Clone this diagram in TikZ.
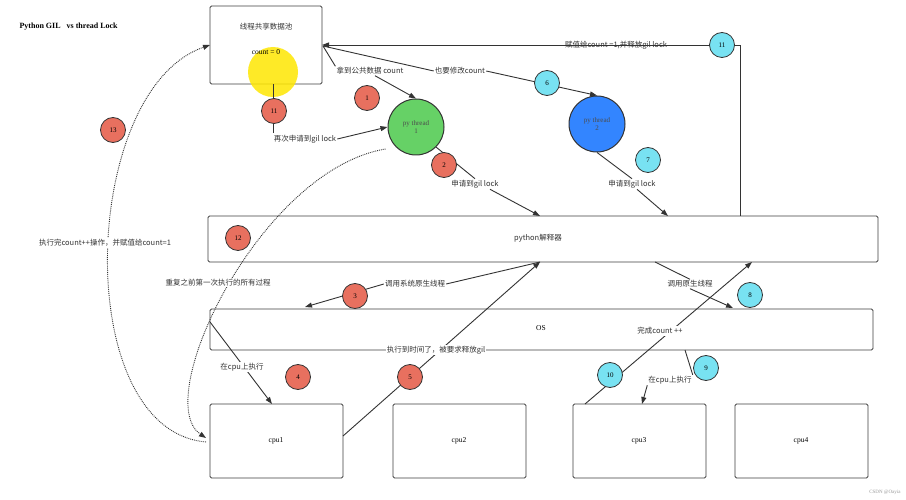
\documentclass[tikz,border=0pt]{standalone}
\usepackage{fontspec}
\setmainfont{Liberation Serif}
\newfontfamily\cjk{Noto Sans CJK SC}
\usetikzlibrary{arrows.meta}
\definecolor{bred}{HTML}{E8705F}
\definecolor{bcyan}{HTML}{78E2F2}
\begin{document}
\begin{tikzpicture}[x=1pt,y=-1pt,
  box/.style={draw=black!75,line width=0.9pt,rounded corners=1.5pt},
  red/.style={circle,draw=black!80,line width=0.8pt,fill=bred,minimum size=25pt,inner sep=0pt,font=\fontsize{7}{8}\selectfont},
  cyan/.style={circle,draw=black!80,line width=0.8pt,fill=bcyan,minimum size=25pt,inner sep=0pt,font=\fontsize{7}{8}\selectfont},
  lbl/.style={fill=white,inner sep=1pt,font=\cjk\fontsize{7.5}{9}\selectfont,text=black!80},
  arr/.style={draw=black!80,line width=0.9pt,-{Triangle[length=7pt,width=5pt]}},
  ln/.style={draw=black!80,line width=0.9pt},
  dot/.style={draw=black!80,line width=0.9pt,densely dotted,-{Triangle[length=7pt,width=5pt]}}]
\useasboundingbox (0,0) rectangle (906,500);
\fill[white] (0,0) rectangle (906,500);
\node[font=\bfseries\fontsize{8}{9}\selectfont,anchor=west] (title) at (16,27) {Python GIL\ \ \ vs thread Lock};
% boxes
\draw[box] (210,6) rectangle (322,84);
\coordinate (poolW) at (210,45); \coordinate (poolE) at (322,45); \coordinate (poolB) at (273,84);
\fill[yellow!90!orange,opacity=0.85] (273,72) circle (25);
\node[lbl,fill=none] (pool) at (266,27) {线程共享数据池};
\node[font=\fontsize{7.5}{9}\selectfont] (cnt) at (266,52) {count = 0};
\draw[box] (208,216) rectangle (878,262);
\node[lbl] (interp) at (538,238) {python解释器};
\draw[box] (210,309) rectangle (873,350);
\node[font=\fontsize{7.5}{9}\selectfont] (os) at (541,328) {OS};
\foreach \n/\x in {1/210,2/393,3/573,4/735}{
  \draw[box] (\x,404) rectangle (\x+133,478);
  \node[font=\fontsize{7.5}{9}\selectfont] (cpu\n) at (\x+66,441) {cpu\n};}
% threads
\node[circle,draw=black!80,line width=1pt,fill=green!70!black!60!white,minimum size=56pt,align=center,font=\fontsize{7}{8}\selectfont,text=black!70] (t1) at (416,127) {py thread\\1};
\node[circle,draw=black!80,line width=1pt,fill=blue!60!cyan!80,minimum size=56pt,align=center,font=\fontsize{7}{8}\selectfont,text=black!70] (t2) at (597,124) {py thread\\2};
% top arrow 11
\coordinate (c11a) at (740,216); \coordinate (c11b) at (740,45);
\draw[ln] (c11a) -- (c11b) -- (722,45);
\node[lbl] (l11) at (616,45) {赋值给count =1,并释放gil lock};
\draw[arr] (722,45) -- (poolE);
\node[cyan] (b11c) at (722,45) {11};
% get count
\node[lbl] (lget) at (370,71) {拿到公共数据 count};
\draw[ln] (323,46) -- (lget.north west);
\draw[arr] (lget.south) ++(5,0) -- (t1.north);
\node[lbl] (lmod) at (460,71) {也要修改count};
\draw[ln] (323,46) -- (lmod.west);
\draw[arr] (lmod.east) -- (t2.north);
\node[cyan] (b6) at (547,83) {6};
\node[red] (b1) at (367,98) {1};
% 11 red
\node[lbl] (lagain) at (305,139) {再次申请到gil lock};
\draw[ln] (273,133) -- (poolB);
\draw[arr] (lagain.east) -- (t1.west);
\node[red] (b11r) at (274,111) {11};
% t1 -> interp
\node[lbl] (lg1) at (475,184) {申请到gil lock};
\draw[ln] (t1.south east) -- (lg1.north);
\draw[arr] (lg1.south) ++(15,0) -- (540,216);
\node[red] (b2) at (444,165) {2};
\node[lbl] (lg2) at (632,184) {申请到gil lock};
\draw[ln] (t2.south) -- (lg2.north);
\draw[arr] (lg2.south) ++(5,0) -- (668,216);
\node[cyan] (b7) at (648,160) {7};
% interp -> OS
\node[lbl] (lsys) at (415,284) {调用系统原生线程};
\draw[ln] (540,262) -- (lsys.east);
\draw[arr] (lsys.west) -- (305,307);
\node[red] (b3) at (355,296) {3};
\node[lbl] (lnat) at (690,284) {调用原生线程};
\draw[ln] (655,262) -- (lnat.north);
\draw[arr] (lnat.south) -- (733,308);
\node[cyan] (b8) at (750,295) {8};
% OS -> cpu1
\draw[arr] (210,322) -- (272,404);
\node[lbl] (lcpu1) at (242,367) {在cpu上执行};
\node[red] (b4) at (298,377) {4};
% cpu1 -> interp
\draw[arr] (343,436) -- (540,262);
\node[lbl] (lrel) at (436,350) {执行到时间了，被要求释放gil};
\node[red] (b5) at (410,377) {5};
% cpu3 -> interp
\draw[arr] (585,404) -- (752,262);
\node[lbl] (ldone) at (660,331) {完成count ++};
\node[cyan] (b10) at (610,375) {10};
\node[lbl] (lcpu3) at (670,380) {在cpu上执行};
\draw[ln] (685,350) -- (lcpu3.north east);
\draw[arr] (lcpu3.south west) -- (642,404);
\node[cyan] (b9) at (706,368) {9};
% dotted
\draw[dot] (t1.west) ++(-2,22) .. controls (260,170) and (150,400) .. (206,438);
\node[red] (b12) at (238,238) {12};
\node[lbl] (lrep) at (218,283) {重复之前第一次执行的所有过程};
\draw[dot] (206,442) .. controls (70,430) and (80,90) .. (poolW);
\node[red] (b13) at (113,130) {13};
\node[lbl] (ldone2) at (105,243) {执行完count++操作，并赋值给count=1};
\node[font=\fontsize{5}{6}\selectfont,text=black!40,anchor=east] (csdn) at (904,492) {CSDN @Oayia};
\end{tikzpicture}
\end{document}
